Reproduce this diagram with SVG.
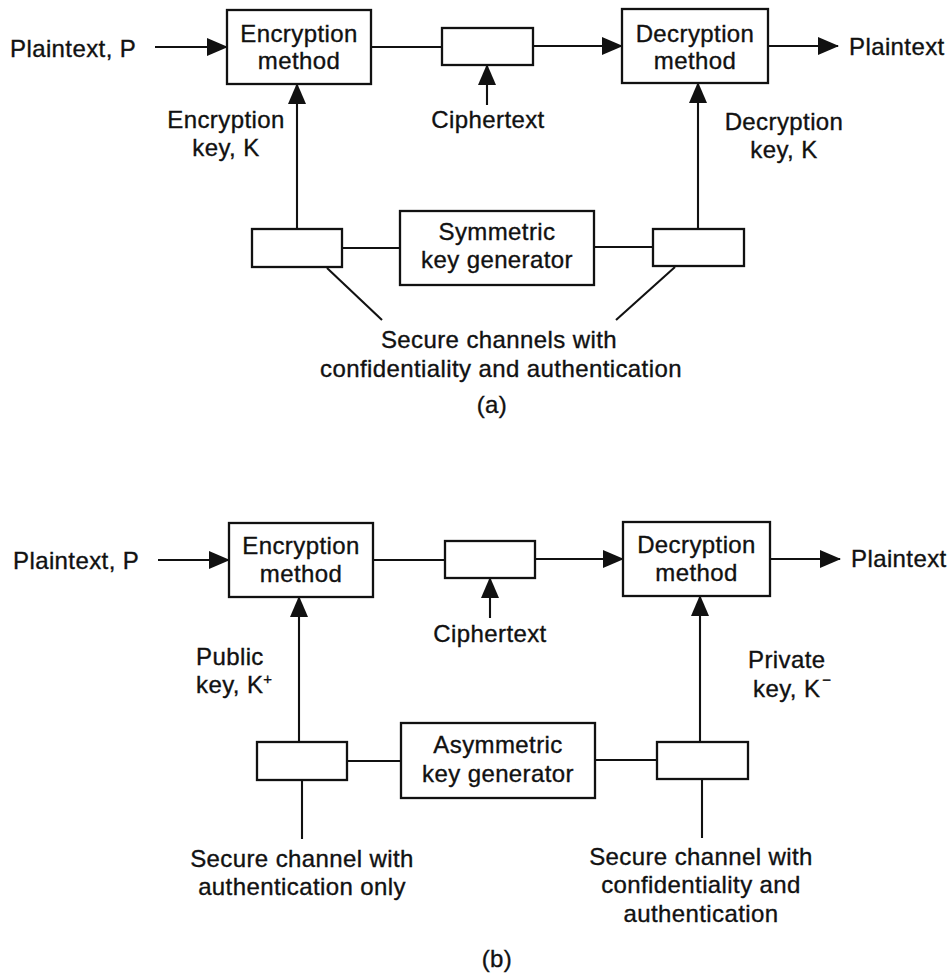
<svg xmlns="http://www.w3.org/2000/svg" width="947" height="976" viewBox="0 0 947 976">
<defs>
<marker id="arr" markerUnits="userSpaceOnUse" markerWidth="22" markerHeight="20" refX="20" refY="9" orient="auto">
<path d="M0,0 L21,9 L0,18 z" fill="#111"/>
</marker>
<style>
.box{fill:#fff;stroke:#111;stroke-width:2.3}
.ln{fill:none;stroke:#111;stroke-width:2.1}
.ar{fill:none;stroke:#111;stroke-width:2.1;marker-end:url(#arr)}
text{font-family:"Liberation Sans",Arial,Helvetica,sans-serif;font-size:24px;letter-spacing:0.4px;fill:#111;stroke:#111;stroke-width:0.35px}
.c{text-anchor:middle}
.sup{font-size:15px}
</style>
</defs>
<rect width="947" height="976" fill="#fff"/>

<g id="connectors">
<!-- (a) -->
<line class="ar" x1="155" y1="47" x2="227" y2="47"/>
<line class="ln" x1="371" y1="47" x2="442" y2="47"/>
<line class="ar" x1="533" y1="46" x2="622" y2="46"/>
<line class="ar" x1="768" y1="46" x2="838" y2="46"/>
<line class="ar" x1="487" y1="105" x2="487" y2="65"/>
<line class="ar" x1="297" y1="229" x2="297" y2="84"/>
<line class="ar" x1="698" y1="229" x2="698" y2="83"/>
<line class="ln" x1="342" y1="248" x2="400" y2="248"/>
<line class="ln" x1="594" y1="247" x2="653" y2="247"/>
<line class="ln" x1="327" y1="268" x2="382" y2="320"/>
<line class="ln" x1="675" y1="267" x2="616" y2="320"/>
<!-- (b) -->
<line class="ar" x1="158" y1="560" x2="229" y2="560"/>
<line class="ln" x1="373" y1="560" x2="445" y2="560"/>
<line class="ar" x1="535" y1="559" x2="623" y2="559"/>
<line class="ar" x1="770" y1="559" x2="840" y2="559"/>
<line class="ar" x1="490" y1="618" x2="490" y2="578"/>
<line class="ar" x1="299" y1="742" x2="299" y2="597"/>
<line class="ar" x1="700" y1="742" x2="700" y2="596"/>
<line class="ln" x1="347" y1="761" x2="401" y2="761"/>
<line class="ln" x1="595" y1="760" x2="657" y2="760"/>
<line class="ln" x1="302" y1="780" x2="302" y2="839"/>
<line class="ln" x1="702" y1="779" x2="702" y2="838"/>
</g>

<!-- (a) nodes -->
<g id="a-plaintext-in"><text x="10" y="57">Plaintext, P</text></g>
<g id="a-encryption">
<rect class="box" x="227" y="10" width="144" height="74"/>
<text class="c" x="299" y="42">Encryption</text>
<text class="c" x="299" y="69">method</text>
</g>
<g id="a-cipherbox"><rect class="box" x="442" y="28" width="91" height="37"/></g>
<g id="a-decryption">
<rect class="box" x="622" y="9" width="146" height="74"/>
<text class="c" x="695" y="42">Decryption</text>
<text class="c" x="695" y="69">method</text>
</g>
<g id="a-plaintext-out"><text x="849" y="55">Plaintext</text></g>
<g id="a-ciphertext-label"><text class="c" x="488" y="128">Ciphertext</text></g>
<g id="a-enckey-label">
<text class="c" x="226" y="128">Encryption</text>
<text class="c" x="226" y="156">key, K</text>
</g>
<g id="a-deckey-label">
<text class="c" x="784" y="130">Decryption</text>
<text class="c" x="784" y="158">key, K</text>
</g>
<g id="a-leftchan"><rect class="box" x="252" y="229" width="90" height="38"/></g>
<g id="a-keygen">
<rect class="box" x="400" y="211" width="194" height="74"/>
<text class="c" x="497" y="240">Symmetric</text>
<text class="c" x="497" y="268">key generator</text>
</g>
<g id="a-rightchan"><rect class="box" x="653" y="229" width="91" height="37"/></g>
<g id="a-secure-label">
<text class="c" x="499" y="348">Secure channels with</text>
<text class="c" x="501" y="377">confidentiality and authentication</text>
</g>
<g id="a-caption"><text class="c" x="492" y="413">(a)</text></g>

<!-- (b) nodes -->
<g id="b-plaintext-in"><text x="13" y="569">Plaintext, P</text></g>
<g id="b-encryption">
<rect class="box" x="229" y="523" width="144" height="74"/>
<text class="c" x="301" y="554">Encryption</text>
<text class="c" x="301" y="582">method</text>
</g>
<g id="b-cipherbox"><rect class="box" x="445" y="541" width="90" height="37"/></g>
<g id="b-decryption">
<rect class="box" x="623" y="522" width="147" height="74"/>
<text class="c" x="696.5" y="553">Decryption</text>
<text class="c" x="696.5" y="581">method</text>
</g>
<g id="b-plaintext-out"><text x="851" y="567">Plaintext</text></g>
<g id="b-ciphertext-label"><text class="c" x="490" y="642">Ciphertext</text></g>
<g id="b-pubkey-label">
<text x="196" y="665">Public</text>
<text x="196" y="693">key, K<tspan class="sup" dy="-9">+</tspan></text>
</g>
<g id="b-privkey-label">
<text x="748" y="668">Private</text>
<text x="753" y="697">key, K<tspan class="sup" dx="2" dy="-12">−</tspan></text>
</g>
<g id="b-leftchan"><rect class="box" x="257" y="742" width="90" height="38"/></g>
<g id="b-keygen">
<rect class="box" x="401" y="723" width="194" height="75"/>
<text class="c" x="498" y="753">Asymmetric</text>
<text class="c" x="498" y="782">key generator</text>
</g>
<g id="b-rightchan"><rect class="box" x="657" y="742" width="91" height="37"/></g>
<g id="b-left-label">
<text class="c" x="302" y="867">Secure channel with</text>
<text class="c" x="302" y="895">authentication only</text>
</g>
<g id="b-right-label">
<text class="c" x="701" y="865">Secure channel with</text>
<text class="c" x="701" y="893">confidentiality and</text>
<text class="c" x="701" y="922">authentication</text>
</g>
<g id="b-caption"><text class="c" x="497" y="967">(b)</text></g>
</svg>
